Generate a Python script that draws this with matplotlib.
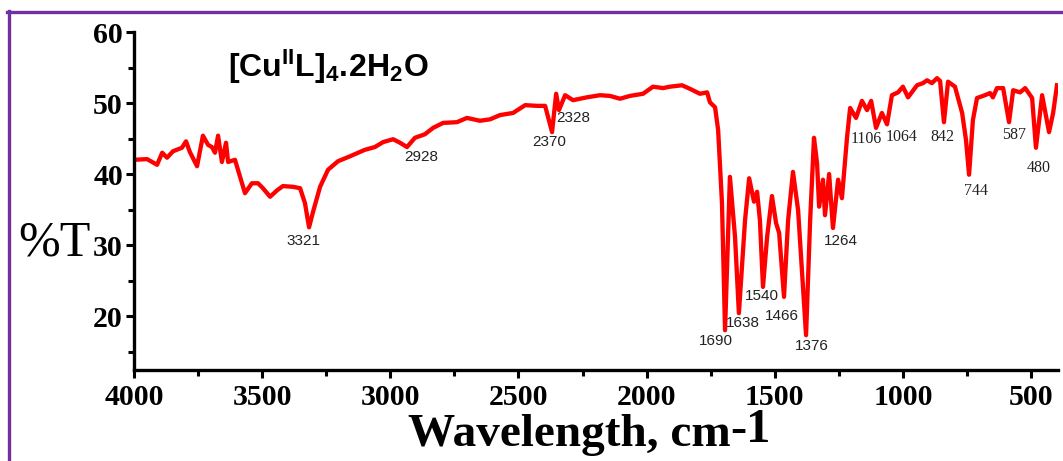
import numpy as np
import matplotlib.pyplot as plt
from matplotlib.lines import Line2D
from matplotlib.ticker import MultipleLocator

# IR spectrum (wavenumber, %T)
wavenumber = [4000, 3949, 3910, 3890, 3871, 3848, 3813, 3797, 3782, 3754,
              3731, 3711, 3696, 3684, 3672, 3657, 3641, 3633, 3606, 3586,
              3567, 3540, 3516, 3497, 3469, 3442, 3419, 3380, 3352, 3333,
              3317, 3302, 3274, 3243, 3204, 3157, 3100, 3060, 3028, 2989,
              2962, 2935, 2904, 2865, 2833, 2794, 2740, 2701, 2650, 2611,
              2572, 2521, 2474, 2428, 2396, 2369, 2353, 2342, 2318, 2287,
              2233, 2182, 2143, 2104, 2065, 2014, 1975, 1936, 1909, 1862,
              1831, 1792, 1764, 1753, 1733, 1721, 1706, 1694, 1675, 1655,
              1640, 1616, 1600, 1581, 1569, 1558, 1546, 1530, 1511, 1495,
              1483, 1464, 1448, 1429, 1409, 1390, 1378, 1362, 1347, 1335,
              1327, 1312, 1304, 1288, 1273, 1253, 1238, 1218, 1206, 1183,
              1160, 1140, 1124, 1105, 1082, 1062, 1043, 1019, 1000, 980,
              945, 922, 906, 887, 867, 855, 840, 824, 797, 769,
              754, 742, 727, 711, 680, 660, 649, 633, 609, 586,
              570, 543, 523, 496, 481, 457, 430, 414, 399]
transmittance = [42.0, 42.1, 41.3, 43.0, 42.3, 43.2, 43.7, 44.6, 43.1, 41.1,
                 45.4, 44.1, 43.8, 43.0, 45.4, 41.7, 44.4, 41.7, 42.0, 39.6,
                 37.3, 38.7, 38.7, 38.0, 36.8, 37.7, 38.3, 38.2, 38.0, 35.9,
                 32.5, 34.6, 38.2, 40.6, 41.8, 42.5, 43.4, 43.8, 44.5, 44.9,
                 44.4, 43.8, 45.1, 45.6, 46.5, 47.2, 47.3, 47.9, 47.5, 47.7,
                 48.3, 48.6, 49.7, 49.6, 49.6, 45.9, 51.3, 49.0, 51.1, 50.4,
                 50.8, 51.1, 51.0, 50.6, 51.0, 51.3, 52.3, 52.1, 52.3, 52.5,
                 52.0, 51.3, 51.5, 50.1, 49.4, 46.2, 35.9, 18.0, 39.6, 31.1,
                 20.4, 33.5, 39.4, 36.1, 37.5, 33.5, 24.1, 31.1, 36.9, 33.1,
                 31.7, 22.7, 33.5, 40.3, 34.9, 24.1, 17.3, 33.5, 45.1, 41.5,
                 35.4, 39.2, 34.2, 40.0, 32.4, 39.2, 36.6, 45.2, 49.3, 47.9,
                 50.3, 49.0, 50.3, 46.5, 48.6, 47.0, 51.1, 51.5, 52.3, 50.8,
                 52.5, 52.8, 53.2, 52.8, 53.5, 53.1, 47.3, 53.0, 52.3, 48.6,
                 44.8, 39.9, 47.6, 50.7, 51.1, 51.4, 50.8, 52.1, 52.1, 47.3,
                 51.8, 51.5, 52.1, 50.7, 43.7, 51.1, 45.9, 48.6, 52.5]

# peak labels: text, x, y, font
peak_text = ['3321', '2928', '2370', '2328', '1690', '1638', '1540', '1466',
             '1376', '1264', '1106', '1064', '842', '744', '587', '480']
peak_x = [3337, 2880, 2381, 2287, 1729, 1624, 1550, 1472,
          1355, 1242, 1144, 1004, 847, 715, 567, 469]
peak_y = [30.6, 42.4, 44.5, 47.9, 16.5, 19.0, 22.8, 20.0,
          15.8, 30.6, 44.9, 45.2, 45.2, 37.6, 45.5, 40.8]
peak_serif = [False] * 10 + [True] * 6

plt.rcParams['mathtext.fontset'] = 'custom'
plt.rcParams['mathtext.bf'] = 'Liberation Sans:bold'
plt.rcParams['mathtext.rm'] = 'Liberation Sans:bold'

fig = plt.figure(figsize=(10.63, 4.61), dpi=100)
ax = fig.add_axes([134 / 1063, 1 - 370 / 461, (1058 - 134) / 1063, (370 - 32) / 461])

ax.plot(wavenumber, transmittance, color='#ff0000', lw=3.1,
        solid_joinstyle='round')

ax.set_xlim(4000, 395)
ax.set_ylim(12.4, 60)
ax.xaxis.set_major_locator(MultipleLocator(500))
ax.xaxis.set_minor_locator(MultipleLocator(250))
ax.yaxis.set_major_locator(MultipleLocator(10))
ax.yaxis.set_minor_locator(MultipleLocator(5))
ax.set_yticks([20, 30, 40, 50, 60])

for side in ['top', 'right']:
    ax.spines[side].set_visible(False)
for side in ['left', 'bottom']:
    ax.spines[side].set_linewidth(2.4)

ax.tick_params(which='major', direction='out', length=6, width=2.2, pad=2)
ax.tick_params(which='minor', direction='out', length=4, width=2.2)
ax.tick_params(axis='x', which='major', pad=4)
for lab in ax.get_xticklabels() + ax.get_yticklabels():
    lab.set_fontfamily('Liberation Serif')
    lab.set_fontweight('bold')
    lab.set_fontsize(21.5)

for t, x, y, s in zip(peak_text, peak_x, peak_y, peak_serif):
    ax.text(x, y, t, ha='center', va='center', fontsize=11 if not s else 11.5,
            family='Liberation Serif' if s else 'Liberation Sans',
            color='#222222')

# title formula
fig.text(228 / 1063, 1 - 77 / 461, r'$\mathbf{[Cu^{II}L]_{4}{.}\!2H_{2}O}$',
         fontsize=23, ha='left', va='baseline', color='black')

# y label
fig.text(18 / 1063, 1 - 255 / 461, '%T', family='Liberation Serif',
         fontsize=36, ha='left', va='baseline')

# x label with raised -1
xl = fig.text(408 / 1063, 1 - 446 / 461, 'Wavelength, cm', family='Liberation Serif',
              fontweight='bold', fontsize=34, ha='left', va='baseline')
fig.canvas.draw()
bb = xl.get_window_extent()
fig.text(bb.x1 / 1063, 1 - 442 / 461, '-1', family='Liberation Serif',
         fontweight='bold', fontsize=35, ha='left', va='baseline')

# purple frame
frame = '#7030a0'
fig.add_artist(Line2D([7 / 1063, 1], [1 - 12 / 461, 1 - 12 / 461],
                      transform=fig.transFigure, color=frame, lw=2.4))
fig.add_artist(Line2D([9 / 1063, 9 / 1063], [1 - 11 / 461, 0],
                      transform=fig.transFigure, color=frame, lw=2.4))

fig.savefig('out.png', dpi=100)
